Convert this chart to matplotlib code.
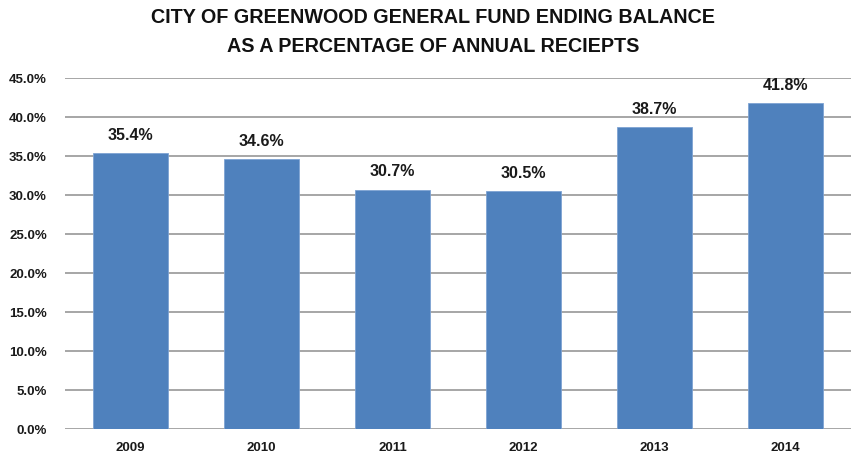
import matplotlib
matplotlib.use("Agg")
import matplotlib.pyplot as plt
from matplotlib.ticker import FuncFormatter, MultipleLocator

years = ["2009", "2010", "2011", "2012", "2013", "2014"]
values = [35.4, 34.6, 30.7, 30.5, 38.7, 41.8]

plt.rcParams['font.family'] = ['Liberation Sans Narrow', 'Liberation Sans', 'DejaVu Sans']

fig = plt.figure(figsize=(8.51, 4.65), dpi=100)
ax = fig.add_axes([0.0764, 0.0774, 0.9236, 0.7546])

x = range(len(years))
ax.bar(x, values, width=0.57, color='#4f81bd', edgecolor='#7ea3d3', linewidth=0.6, zorder=3)
for i, v in zip(x, values):
    ax.text(i, v + 1.3, f"{v:.1f}%", ha='center', va='bottom', fontsize=11.5, fontweight='bold', color='#1a1a1a')

ax.set_xlim(-0.5, len(years) - 0.5)
ax.set_ylim(0, 45)
ax.yaxis.set_major_locator(MultipleLocator(5))
ax.yaxis.set_major_formatter(FuncFormatter(lambda v, p: f"{v:.1f}%"))
ax.set_xticks(list(x))
ax.set_xticklabels(years)
ax.grid(axis='y', color='#a6a6a6', linewidth=1.4, zorder=0)
for s in ax.spines.values():
    s.set_visible(False)
ax.tick_params(axis='both', length=0, colors='#1a1a1a')
ax.tick_params(axis='y', pad=13, labelsize=9.5)
ax.tick_params(axis='x', pad=9, labelsize=9.5)
for lab in ax.get_xticklabels() + ax.get_yticklabels():
    lab.set_fontweight('bold')

fig.text(0.509, 0.982, "CITY OF GREENWOOD GENERAL FUND ENDING BALANCE\nAS A PERCENTAGE OF ANNUAL RECIEPTS",
         ha='center', va='top', fontsize=14.2, fontweight='bold', linespacing=1.65, color='#111111')

fig.savefig("out.png", dpi=100)
